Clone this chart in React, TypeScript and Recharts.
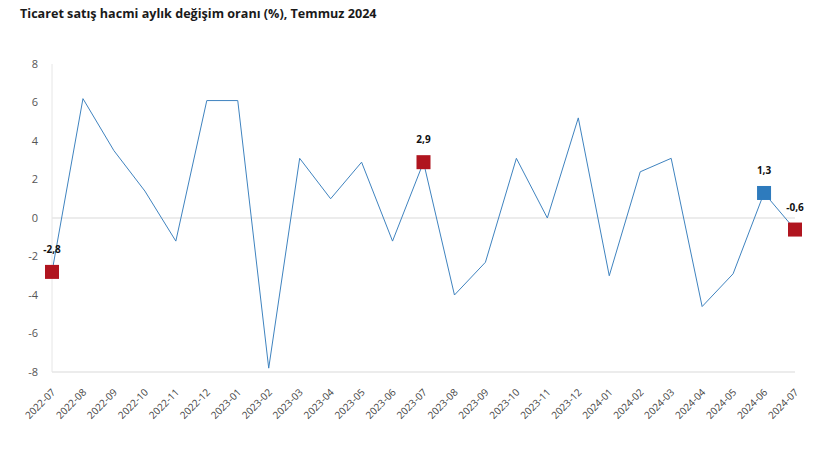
import React from "react"
import { LineChart, Line, XAxis, YAxis, ReferenceLine } from "recharts"

const months = [
  "2022-07", "2022-08", "2022-09", "2022-10", "2022-11", "2022-12",
  "2023-01", "2023-02", "2023-03", "2023-04", "2023-05", "2023-06",
  "2023-07", "2023-08", "2023-09", "2023-10", "2023-11", "2023-12",
  "2024-01", "2024-02", "2024-03", "2024-04", "2024-05", "2024-06", "2024-07",
]
const change = [
  -2.8, 6.2, 3.5, 1.4, -1.2, 6.1,
  6.1, -7.8, 3.1, 1.0, 2.9, -1.2,
  2.9, -4.0, -2.3, 3.1, 0, 5.2,
  -3.0, 2.4, 3.1, -4.6, -2.9, 1.3, -0.6,
]
const yTicks = [-8, -6, -4, -2, 0, 2, 4, 6, 8]
// highlighted months: same month of previous years in red, previous month in blue
const redMonths = ["2022-07", "2023-07", "2024-07"]
const blueMonths = ["2024-06"]

const data = months.map((m, i) => ({ month: m, value: change[i] }))

const FONT = "'Open Sans', sans-serif"

function MarkerDot(props: any) {
  const { cx, cy, payload } = props
  const red = redMonths.includes(payload.month)
  const blue = blueMonths.includes(payload.month)
  if (!red && !blue) return <g key={payload.month} />
  return (
    <g key={payload.month}>
      <rect x={cx - 7} y={cy - 7} width={14} height={14} fill={red ? "#b0151f" : "#2e7bbd"} />
      <text x={cx} y={cy - 19} textAnchor="middle" fontSize={10} fontWeight={700} fill="#111" fontFamily={FONT}>
        {String(payload.value).replace(".", ",")}
      </text>
    </g>
  )
}

function MonthTick(props: any) {
  const { x, y, payload } = props
  return (
    <text
      x={x + 4}
      y={y + 13}
      transform={`rotate(-45 ${x + 4} ${y + 13})`}
      textAnchor="end"
      fontSize={10}
      fill="#444444"
      stroke="none"
      fontFamily={FONT}
    >
      {payload.value}
    </text>
  )
}

export default function App() {
  return (
    <div style={{ position: "relative", width: 838, height: 453, background: "#fff" }}>
      <style>{`body{margin:0}`}</style>
      <div
        style={{
          position: "absolute",
          left: 20,
          top: 5,
          fontFamily: FONT,
          fontWeight: 700,
          fontSize: 12.6,
          color: "#1a1a1a",
        }}
      >
        Ticaret satış hacmi aylık değişim oranı (%), Temmuz 2024
      </div>
      <LineChart width={838} height={453} data={data} margin={{ top: 64, right: 43, bottom: 51, left: 0 }}>
        <XAxis
          dataKey="month"
          interval={0}
          height={30}
          tick={<MonthTick />}
          tickLine={false}
          axisLine={{ stroke: "#d9d9d9" }}
        />
        <YAxis
          width={52}
          domain={[-8, 8]}
          ticks={yTicks}
          tickSize={0}
          tickMargin={14}
          tick={{ fontSize: 11, fill: "#555", fontFamily: FONT }}
          axisLine={{ stroke: "#e6e6e6" }}
        />
        <ReferenceLine y={0} stroke="#d9d9d9" />
        <Line
          dataKey="value"
          type="linear"
          stroke="#3f83bf"
          strokeWidth={1}
          dot={<MarkerDot />}
          activeDot={false}
          isAnimationActive={false}
        />
      </LineChart>
    </div>
  )
}
